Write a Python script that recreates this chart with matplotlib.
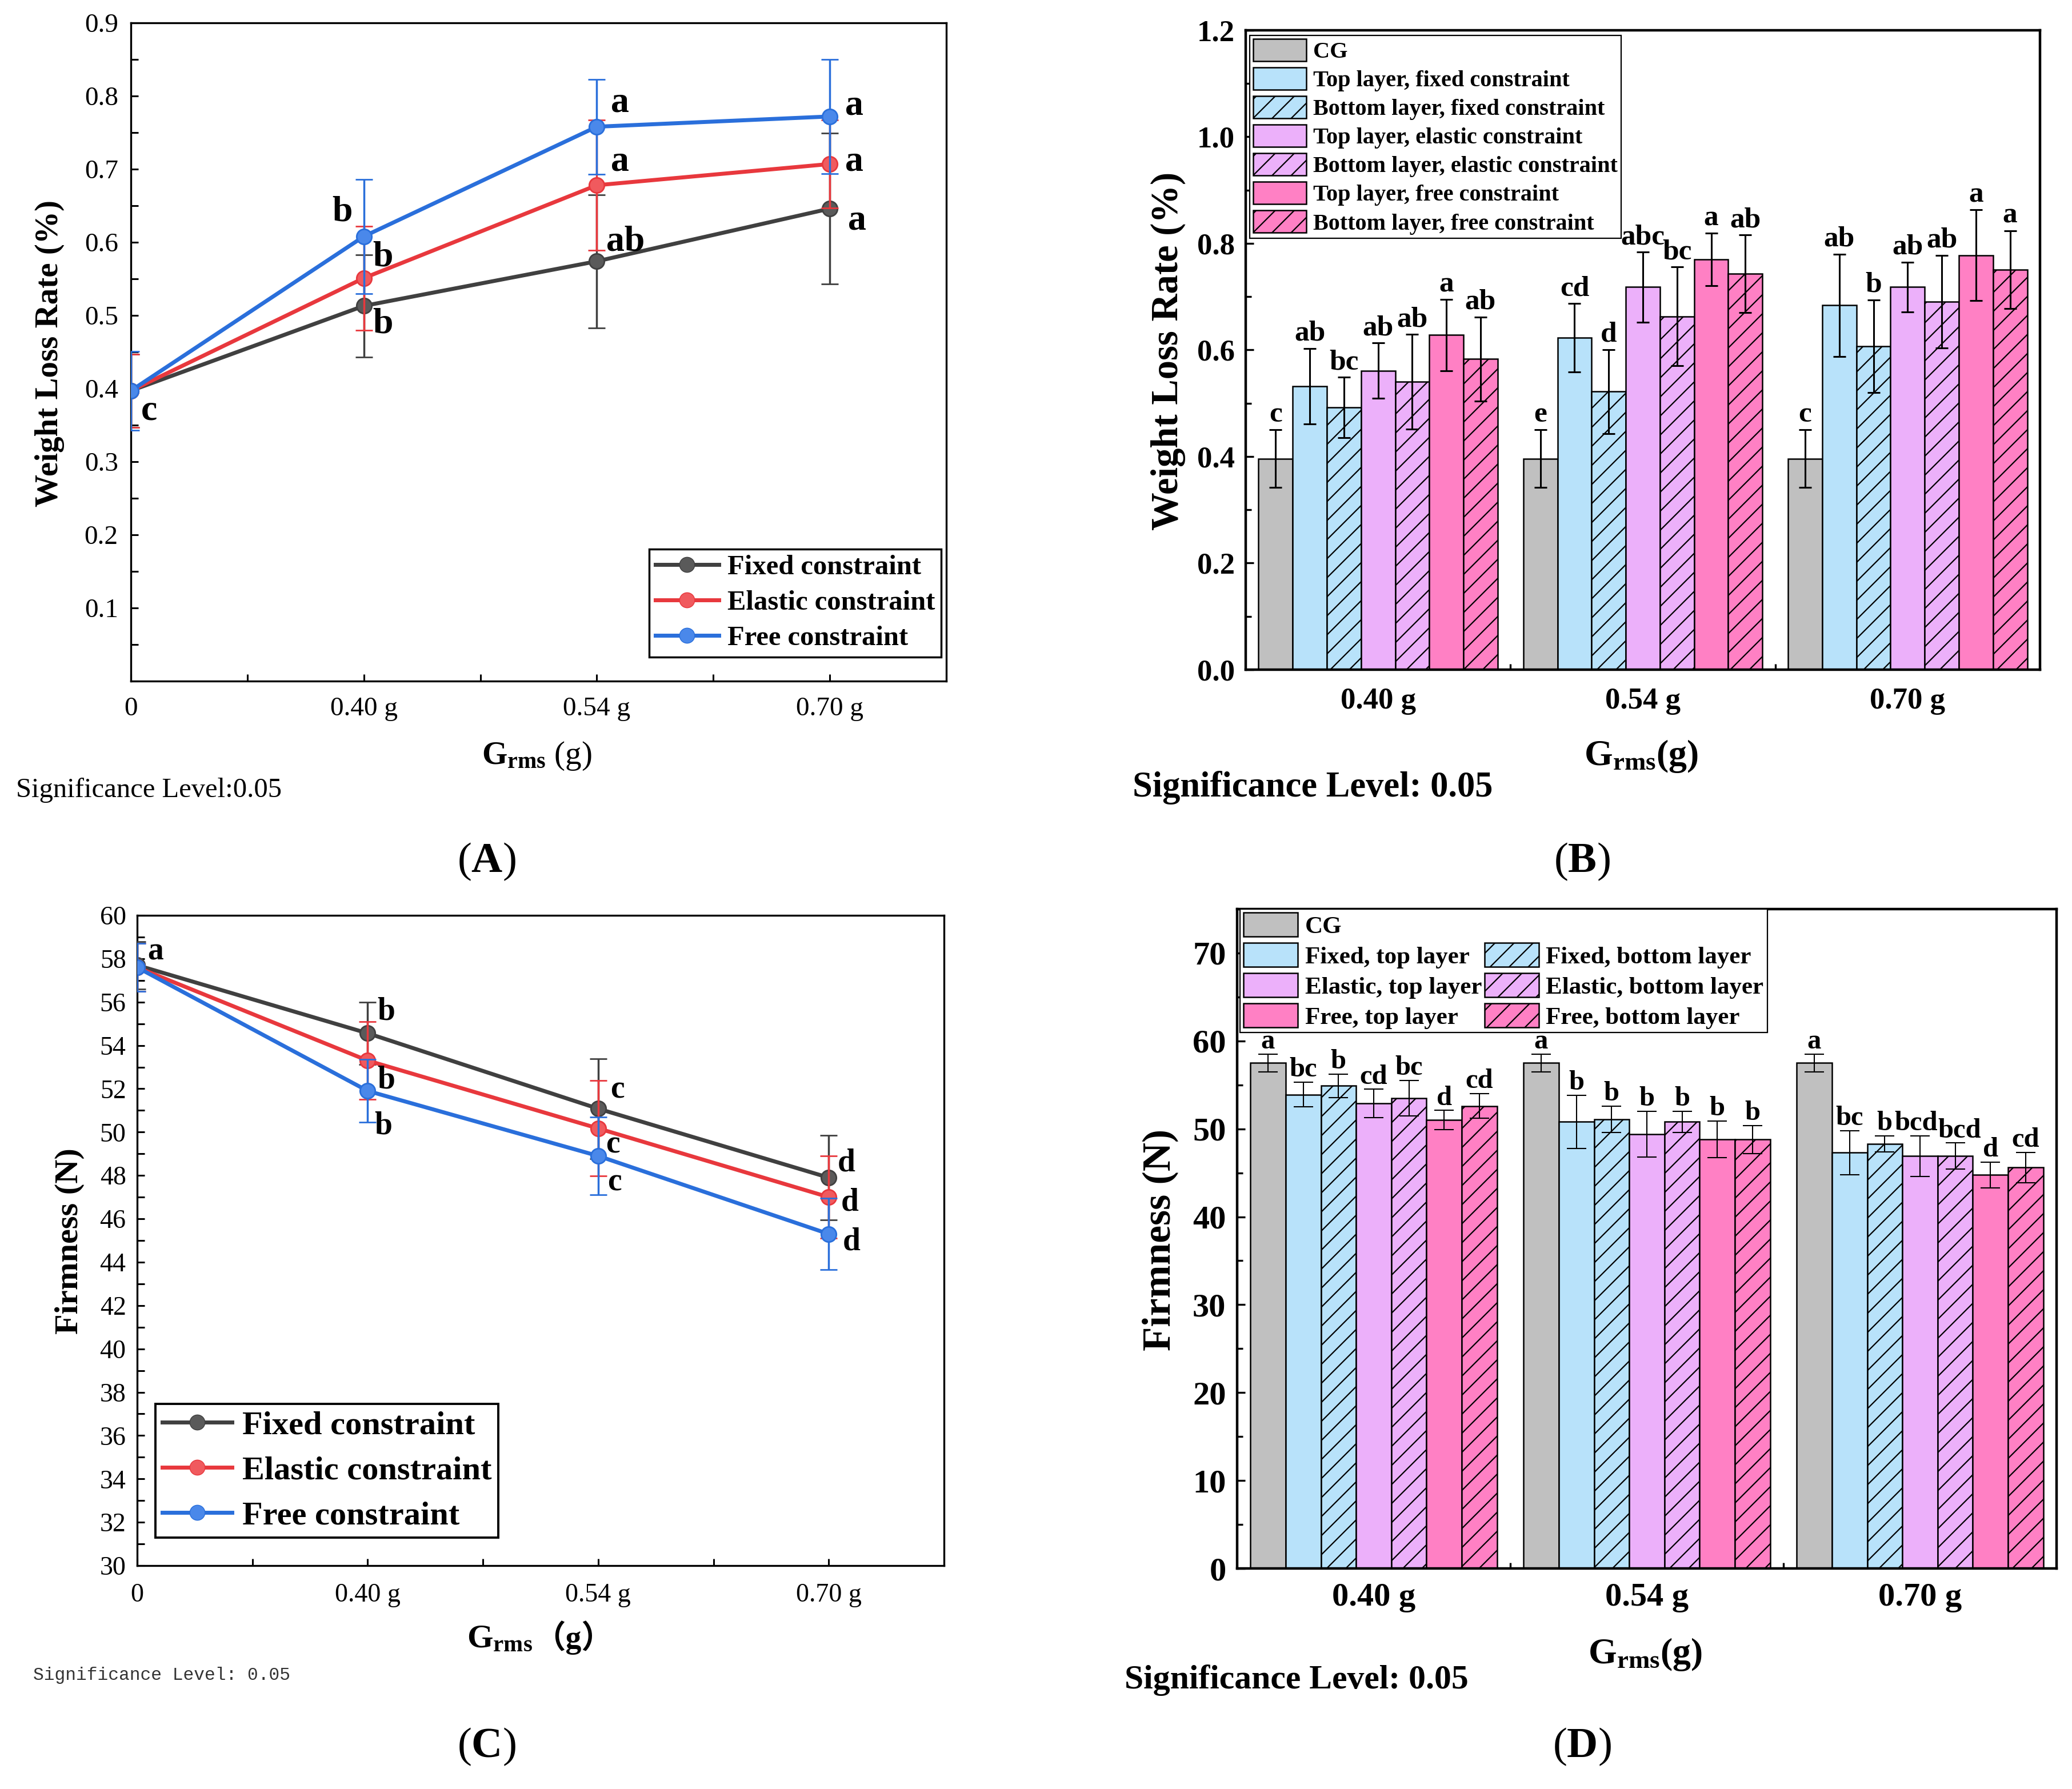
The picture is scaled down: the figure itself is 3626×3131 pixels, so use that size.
import numpy as np
import matplotlib
matplotlib.use('Agg')
import matplotlib.pyplot as plt
from matplotlib.patches import Patch
from matplotlib.lines import Line2D
from matplotlib.ticker import MultipleLocator, FixedLocator

plt.rcParams['font.family'] = ['Liberation Serif', 'Noto Sans CJK SC']
plt.rcParams['mathtext.fontset'] = 'custom'
plt.rcParams['mathtext.rm'] = 'Liberation Serif'
plt.rcParams['mathtext.bf'] = 'Liberation Serif:bold'
plt.rcParams['mathtext.it'] = 'Liberation Serif:italic'
plt.rcParams['hatch.linewidth'] = 1.6

# ---------------- data ----------------
line_ticks = ['0', '0.40 g', '0.54 g', '0.70 g']
bar_ticks = ['0.40 g', '0.54 g', '0.70 g']
line_series = ['Fixed constraint', 'Elastic constraint', 'Free constraint']

# (A) weight loss rate, line chart
wl_fixed = [0.397, 0.513, 0.574, 0.646]
wl_fixed_err = [0.05, 0.070, 0.091, 0.103]
wl_elastic = [0.397, 0.551, 0.678, 0.707]
wl_elastic_err = [0.05, 0.071, 0.089, 0.060]
wl_free = [0.397, 0.608, 0.758, 0.772]
wl_free_err = [0.054, 0.078, 0.065, 0.078]
wl_fixed_sig = ['', 'b', 'ab', 'a']
wl_elastic_sig = ['', 'b', 'a', 'a']
wl_free_sig = ['c', 'b', 'a', 'a']

# (C) firmness, line chart
fm_fixed = [57.7, 54.56, 51.08, 47.9]
fm_fixed_err = [1.1, 1.44, 2.3, 1.94]
fm_elastic = [57.6, 53.3, 50.17, 47.0]
fm_elastic_err = [1.1, 1.8, 2.2, 1.9]
fm_free = [57.6, 51.9, 48.9, 45.3]
fm_free_err = [1.1, 1.45, 1.8, 1.65]
fm_fixed_sig = ['a', 'b', 'c', 'd']
fm_elastic_sig = ['', 'b', 'c', 'd']
fm_free_sig = ['', 'b', 'c', 'd']

# (B) weight loss rate, bar chart (rows: groups 0.40/0.54/0.70 g)
bar_series_B = ['CG', 'Top layer, fixed constraint', 'Bottom layer, fixed constraint',
                'Top layer, elastic constraint', 'Bottom layer, elastic constraint',
                'Top layer, free constraint', 'Bottom layer, free constraint']
wlb_vals = [[0.396, 0.532, 0.492, 0.561, 0.540, 0.628, 0.583],
            [0.396, 0.623, 0.522, 0.718, 0.663, 0.770, 0.743],
            [0.396, 0.684, 0.607, 0.718, 0.691, 0.778, 0.751]]
wlb_err = [[0.054, 0.071, 0.057, 0.052, 0.089, 0.067, 0.079],
           [0.054, 0.064, 0.079, 0.066, 0.093, 0.049, 0.073],
           [0.054, 0.096, 0.087, 0.047, 0.087, 0.085, 0.073]]
wlb_sig = [['c', 'ab', 'bc', 'ab', 'ab', 'a', 'ab'],
           ['e', 'cd', 'd', 'abc', 'bc', 'a', 'ab'],
           ['c', 'ab', 'b', 'ab', 'ab', 'a', 'a']]

# (D) firmness, bar chart
bar_series_D = ['CG', 'Fixed, top layer', 'Fixed, bottom layer', 'Elastic, top layer',
                'Elastic, bottom layer', 'Free, top layer', 'Free, bottom layer']
fmb_vals = [[57.5, 53.9, 54.9, 52.9, 53.5, 51.0, 52.6],
            [57.5, 50.8, 51.1, 49.4, 50.8, 48.8, 48.8],
            [57.5, 47.3, 48.3, 46.9, 46.9, 44.75, 45.6]]
fmb_err = [[1.0, 1.4, 1.35, 1.6, 2.0, 1.1, 1.4],
           [1.0, 3.0, 1.5, 2.6, 1.2, 2.1, 1.6],
           [1.0, 2.5, 0.9, 2.3, 1.5, 1.45, 1.7]]
fmb_sig = [['a', 'bc', 'b', 'cd', 'bc', 'd', 'cd'],
           ['a', 'b', 'b', 'b', 'b', 'b', 'b'],
           ['a', 'bc', 'b', 'bcd', 'bcd', 'd', 'cd']]

# ---------------- styles ----------------
line_colors = ['#404040', '#e8383d', '#2a6fdb']
marker_faces = ['#5a5a5a', '#f05a5e', '#4a88ea']
bar_colors = ['#c0c0c0', '#b8e2fa', '#b8e2fa', '#ecb0fa', '#ecb0fa', '#ff80c4', '#ff80c4']
bar_hatch = [None, None, '/', None, '/', None, '/']

W, H = 3626, 3131
fig = plt.figure(figsize=(W / 100, H / 100), dpi=100)


def rect(l, t, r, b):
    return [l / W, 1 - b / H, (r - l) / W, (b - t) / H]


def px(v):
    return v * 0.72


# ======================= (A) =======================
axA = fig.add_axes(rect(229, 40, 1656, 1192))
x = np.arange(4)
A_vals = [wl_fixed, wl_elastic, wl_free]
A_errs = [wl_fixed_err, wl_elastic_err, wl_free_err]
for i in range(3):
    axA.errorbar(x, A_vals[i], yerr=A_errs[i], color=line_colors[i], lw=5,
                 marker='o', ms=19, mfc=marker_faces[i], mec=line_colors[i], mew=2,
                 ecolor=line_colors[i], elinewidth=2.5, capsize=11, capthick=2.5,
                 zorder=3 + i)
axA.set_xlim(0, 3.5)
axA.set_ylim(0, 0.9)
axA.set_xticks(x)
axA.set_xticklabels(line_ticks)
axA.xaxis.set_minor_locator(FixedLocator([0.5, 1.5, 2.5]))
axA.set_yticks(np.arange(1, 10) / 10)
axA.set_yticklabels(['%.1f' % v for v in np.arange(1, 10) / 10])
axA.yaxis.set_minor_locator(MultipleLocator(0.05))
axA.tick_params(which='both', direction='in', width=2.2, labelsize=34)
axA.tick_params(which='major', length=9)
axA.tick_params(which='minor', length=9)
axA.tick_params(axis='x', pad=20)
axA.tick_params(axis='y', pad=16)
for s in axA.spines.values():
    s.set_linewidth(2.4)
axA.set_ylabel('Weight Loss Rate (%)', fontsize=41, fontweight='bold', va='center')
axA.yaxis.set_label_coords(-0.0995, 0.498)
axA.set_xlabel(r'$\mathbf{G_{rms}}$ (g)', fontsize=41, va='center')
axA.xaxis.set_label_coords(0.4975, -0.114)

A_sigs = [wl_fixed_sig, wl_elastic_sig, wl_free_sig]
A_off = [[(0, 0), (33, -32), (50, 34), (48, -21)],
         [(0, 0), (33, 36), (41, 41), (43, 4)],
         [(32, -36), (-38, 42), (41, 41), (43, 18)]]
for i in range(3):
    for j in range(4):
        if A_sigs[i][j]:
            axA.annotate(A_sigs[i][j], (x[j], A_vals[i][j]),
                         xytext=(px(A_off[i][j][0]), px(A_off[i][j][1])),
                         textcoords='offset points', ha='center', va='center',
                         fontsize=46, fontweight='bold', zorder=10)

hA = [Line2D([], [], color=line_colors[i], lw=5, marker='o', ms=19,
             mfc=marker_faces[i], mec=line_colors[i]) for i in range(3)]
legA = axA.legend(hA, line_series, loc='lower right', bbox_to_anchor=(0.9937, 0.0365),
                  borderaxespad=0, prop={'size': 35, 'weight': 'bold'}, frameon=True,
                  fancybox=False, edgecolor='black', framealpha=1, handlelength=2.3,
                  handletextpad=0.3, labelspacing=0.37, borderpad=0.22)
legA.get_frame().set_linewidth(2.5)

fig.text(28 / W, 1 - 1383 / H, 'Significance Level:0.05', fontsize=35, ha='left', va='center')

# ======================= (C) =======================
axC = fig.add_axes(rect(240, 1602, 1652, 2740))
C_vals = [fm_fixed, fm_elastic, fm_free]
C_errs = [fm_fixed_err, fm_elastic_err, fm_free_err]
for i in range(3):
    axC.errorbar(x, C_vals[i], yerr=C_errs[i], color=line_colors[i], lw=5,
                 marker='o', ms=19, mfc=marker_faces[i], mec=line_colors[i], mew=2,
                 ecolor=line_colors[i], elinewidth=2.5, capsize=11, capthick=2.5,
                 zorder=3 + i)
axC.set_xlim(0, 3.5)
axC.set_ylim(30, 60)
axC.set_xticks(x)
axC.set_xticklabels(line_ticks)
axC.xaxis.set_minor_locator(FixedLocator([0.5, 1.5, 2.5]))
axC.set_yticks(np.arange(30, 61, 2))
axC.yaxis.set_minor_locator(MultipleLocator(1))
axC.tick_params(which='both', direction='in', width=2.2, labelsize=33)
axC.tick_params(which='major', length=9)
axC.tick_params(which='minor', length=9)
axC.tick_params(axis='x', pad=22)
axC.tick_params(axis='y', pad=14)
for s in axC.spines.values():
    s.set_linewidth(2.4)
axC.set_ylabel('Firmness (N)', fontsize=42, fontweight='bold', va='center')
axC.yaxis.set_label_coords(-0.0836, 0.499)
fig.text(932 / W, 1 - 2869 / H, r'$\mathbf{G_{rms}}$', fontsize=42, ha='right', va='center')
fig.text(934 / W, 1 - 2866 / H, '（g）', fontsize=40, fontweight='bold', ha='left',
         va='center', family=['Liberation Serif', 'Noto Sans CJK SC'])

C_sigs = [fm_fixed_sig, fm_elastic_sig, fm_free_sig]
C_off = [[(32, 24), (32, 38), (34, 33), (31, 25)],
         [(0, 0), (32, -34), (26, -29), (37, -9)],
         [(0, 0), (27, -61), (29, -46), (40, -14)]]
for i in range(3):
    for j in range(4):
        if C_sigs[i][j]:
            axC.annotate(C_sigs[i][j], (x[j], C_vals[i][j]),
                         xytext=(px(C_off[i][j][0]), px(C_off[i][j][1])),
                         textcoords='offset points', ha='center', va='center',
                         fontsize=40, fontweight='bold', zorder=10)

legC = axC.legend(hA, line_series, loc='lower left', bbox_to_anchor=(0.0227, 0.043),
                  borderaxespad=0, prop={'size': 42, 'weight': 'bold'}, frameon=True,
                  fancybox=False, edgecolor='black', framealpha=1, handlelength=2.1,
                  handletextpad=0.3, labelspacing=0.45, borderpad=0.2)
legC.get_frame().set_linewidth(2.8)

fig.text(58 / W, 1 - 2932 / H, 'Significance Level: 0.05', fontsize=22.5,
         family='Liberation Mono', ha='left', va='center', color='#333333')


# ======================= bar helper =======================
def bar_panel(ax, vals, errs, sigs, names, ylim, major, minor, tick_fs, sig_fs,
              capsize, elw, sig_off, sig_dx=None):
    vals = np.array(vals)
    errs = np.array(errs)
    ng, nb = vals.shape
    w = 0.129
    gx = np.arange(ng)
    handles = []
    sig_dx = sig_dx or {}
    for k in range(nb):
        xs = gx + (k - (nb - 1) / 2) * w
        b = ax.bar(xs, vals[:, k], width=w, color=bar_colors[k], edgecolor='black',
                   linewidth=1.8, hatch=bar_hatch[k], zorder=2)
        ax.errorbar(xs, vals[:, k], yerr=errs[:, k], fmt='none', ecolor='black',
                    elinewidth=elw, capsize=capsize, capthick=elw, zorder=3)
        for g in range(ng):
            dx = sig_dx.get((g, k), 0)
            ax.annotate(sigs[g][k], (xs[g], vals[g, k] + errs[g, k]),
                        xytext=(px(dx), sig_off), textcoords='offset points',
                        ha='center', va='baseline', fontsize=sig_fs,
                        fontweight='bold', zorder=4)
        handles.append(b)
    ax.set_xlim(-0.5, ng - 0.5)
    ax.set_ylim(*ylim)
    ax.set_xticks(gx)
    ax.set_xticklabels(bar_ticks)
    ax.xaxis.set_minor_locator(FixedLocator(np.arange(ng - 1) + 0.5))
    ax.yaxis.set_major_locator(MultipleLocator(major))
    ax.yaxis.set_minor_locator(MultipleLocator(minor))
    ax.tick_params(which='both', direction='in', width=2.4, labelsize=tick_fs)
    ax.tick_params(which='major', length=10)
    ax.tick_params(which='minor', length=7)
    for lab in ax.get_xticklabels() + ax.get_yticklabels():
        lab.set_fontweight('bold')
    for s in ax.spines.values():
        s.set_linewidth(3.2)
    return handles


# ======================= (B) =======================
axB = fig.add_axes(rect(2180, 53, 3570, 1172))
hB = bar_panel(axB, wlb_vals, wlb_err, wlb_sig, bar_series_B, (0, 1.2), 0.2, 0.1,
               38, 37, 8, 2.2, 10)
axB.yaxis.set_major_formatter(matplotlib.ticker.FormatStrFormatter('%.1f'))
axB.tick_params(axis='x', pad=22)
axB.tick_params(axis='y', pad=14)
axB.set_ylabel('Weight Loss Rate (%)', fontsize=48, fontweight='bold', va='center')
axB.yaxis.set_label_coords(-0.098, 0.498)
axB.set_xlabel(r'$\mathbf{G_{rms}(g)}$', fontsize=46, va='center')
axB.xaxis.set_label_coords(0.498, -0.135)
legB = axB.legend(hB, bar_series_B, loc='upper left', bbox_to_anchor=(0.005, 0.992),
                  borderaxespad=0, prop={'size': 29, 'weight': 'bold'}, frameon=True,
                  fancybox=False, edgecolor='black', framealpha=1, handlelength=2.3,
                  handleheight=1.1, handletextpad=0.3, labelspacing=0.2, borderpad=0.15)
legB.get_frame().set_linewidth(1.6)
fig.text(1982 / W, 1 - 1378 / H, 'Significance Level: 0.05', fontsize=45,
         fontweight='bold', ha='left', va='center')

# ======================= (D) =======================
axD = fig.add_axes(rect(2165, 1591, 3599, 2745))
hD = bar_panel(axD, fmb_vals, fmb_err, fmb_sig, bar_series_D, (0, 75), 10, 5,
               42, 35, 12, 1.5, 7, sig_dx={(2, 3): -7, (2, 4): 7})
axD.tick_params(axis='x', pad=18)
axD.tick_params(axis='y', pad=14)
axD.set_ylabel('Firmness (N)', fontsize=50, fontweight='bold', va='center')
axD.yaxis.set_label_coords(-0.094, 0.498)
axD.set_xlabel(r'$\mathbf{G_{rms}(g)}$', fontsize=46, va='center')
axD.xaxis.set_label_coords(0.498, -0.130)
blank = Patch(facecolor='none', edgecolor='none')
order_h = [hD[0], hD[1], hD[3], hD[5], blank, hD[2], hD[4], hD[6]]
order_l = [bar_series_D[0], bar_series_D[1], bar_series_D[3], bar_series_D[5], '',
           bar_series_D[2], bar_series_D[4], bar_series_D[6]]
legD = axD.legend(order_h, order_l, ncol=2, loc='upper left', bbox_to_anchor=(0.0035, 1.0),
                  borderaxespad=0, prop={'size': 31, 'weight': 'bold'}, frameon=True,
                  fancybox=False, edgecolor='black', framealpha=1, handlelength=2.2,
                  handleheight=1.1, handletextpad=0.3, labelspacing=0.2, borderpad=0.15,
                  columnspacing=0.1)
legD.get_frame().set_linewidth(1.6)
fig.text(1968 / W, 1 - 2941 / H, 'Significance Level: 0.05', fontsize=43,
         fontweight='bold', ha='left', va='center')

# ======================= panel labels =======================
for lab, cx, cy in [('A', 851, 1508), ('B', 2768, 1508), ('C', 851, 3057), ('D', 2768, 3057)]:
    fig.text(cx / W, 1 - cy / H, '($\\mathbf{%s}$)' % lab, fontsize=54, ha='center', va='center')

fig.savefig('out.png', dpi=100, facecolor='white')
